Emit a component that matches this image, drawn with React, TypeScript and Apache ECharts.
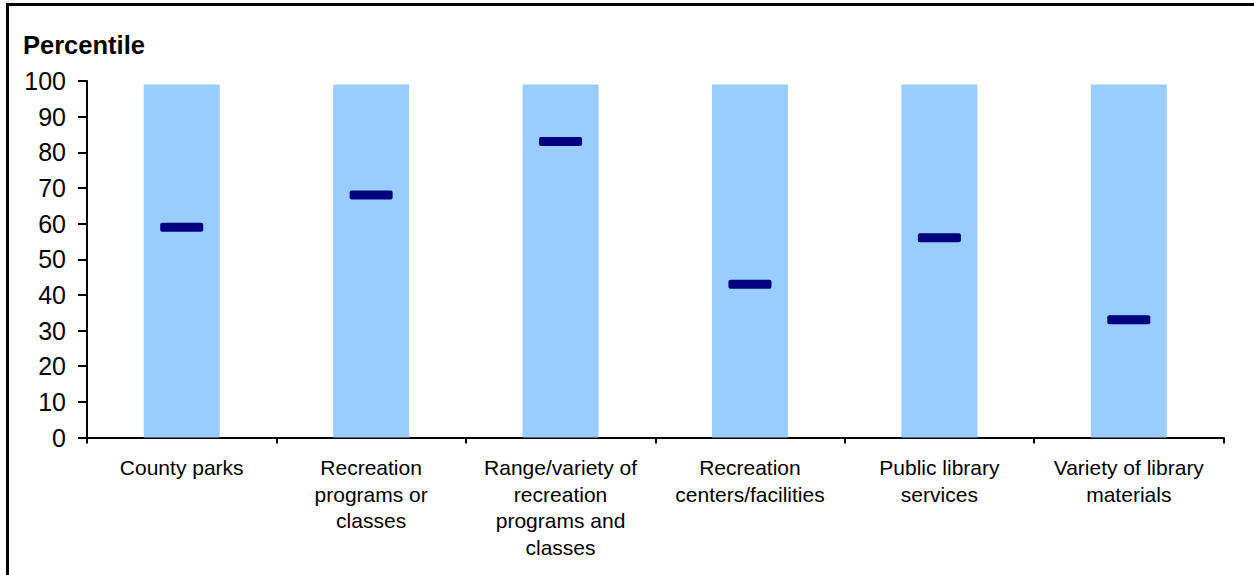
import React, { useEffect, useRef } from "react";
import * as echarts from "echarts";

const categories = [
  "County parks",
  "Recreation\nprograms or\nclasses",
  "Range/variety of\nrecreation\nprograms and\nclasses",
  "Recreation\ncenters/facilities",
  "Public library\nservices",
  "Variety of library\nmaterials",
];
const rangeTop = [99, 99, 99, 99, 99, 99];
const percentile = [59, 68, 83, 43, 56, 33];
const yTicks = { min: 0, max: 100, interval: 10 };

export default function App() {
  const ref = useRef<HTMLDivElement>(null);
  useEffect(() => {
    if (!ref.current) return;
    const chart = echarts.init(ref.current, null, { renderer: "svg" });
    const font = "'Liberation Sans', Arial, sans-serif";
    chart.setOption({
      animation: false,
      backgroundColor: "#ffffff",
      grid: { left: 87, right: 30.5, top: 81, bottom: 137.5 },
      graphic: [
        {
          type: "polyline",
          shape: { points: [[7.5, 700], [7.5, 4.5], [1300, 4.5]] },
          style: { stroke: "#000", lineWidth: 3, fill: "none" },
          silent: true,
        },
        {
          type: "text",
          left: 23,
          top: 32,
          style: {
            text: "Percentile",
            fontFamily: font,
            fontSize: 25.5,
            fontWeight: "bold",
            fill: "#000",
          },
        },
      ],
      xAxis: {
        type: "category",
        data: categories,
        boundaryGap: true,
        axisLine: { lineStyle: { color: "#000", width: 2 } },
        axisTick: { show: true, length: 6, lineStyle: { color: "#000", width: 2 }, alignWithLabel: false },
        axisLabel: {
          interval: 0,
          margin: 17,
          color: "#000",
          fontFamily: font,
          fontSize: 21,
          lineHeight: 26.5,
          align: "center",
        },
      },
      yAxis: {
        type: "value",
        min: yTicks.min,
        max: yTicks.max,
        interval: yTicks.interval,
        splitLine: { show: false },
        axisLine: { show: true, lineStyle: { color: "#000", width: 2 } },
        axisTick: { show: true, length: 9, lineStyle: { color: "#000", width: 2 } },
        axisLabel: {
          margin: 21,
          color: "#000",
          fontFamily: font,
          fontSize: 25,
        },
      },
      series: [
        {
          type: "bar",
          data: rangeTop,
          barWidth: 76,
          itemStyle: { color: "#99CCFF" },
          silent: true,
          z: 1,
        },
        {
          type: "scatter",
          data: percentile,
          symbol: "path://M2,0 H41 Q43,0 43,2 V7 Q43,9 41,9 H2 Q0,9 0,7 V2 Q0,0 2,0 Z",
          symbolKeepAspect: false,
          symbolSize: [43, 9],
          itemStyle: { color: "#000080", opacity: 1 },
          silent: true,
          z: 3,
        },
      ],
    });
    return () => chart.dispose();
  }, []);
  return (
    <div
      ref={ref}
      style={{ position: "fixed", left: 0, top: 0, width: 1254, height: 575 }}
    />
  );
}
